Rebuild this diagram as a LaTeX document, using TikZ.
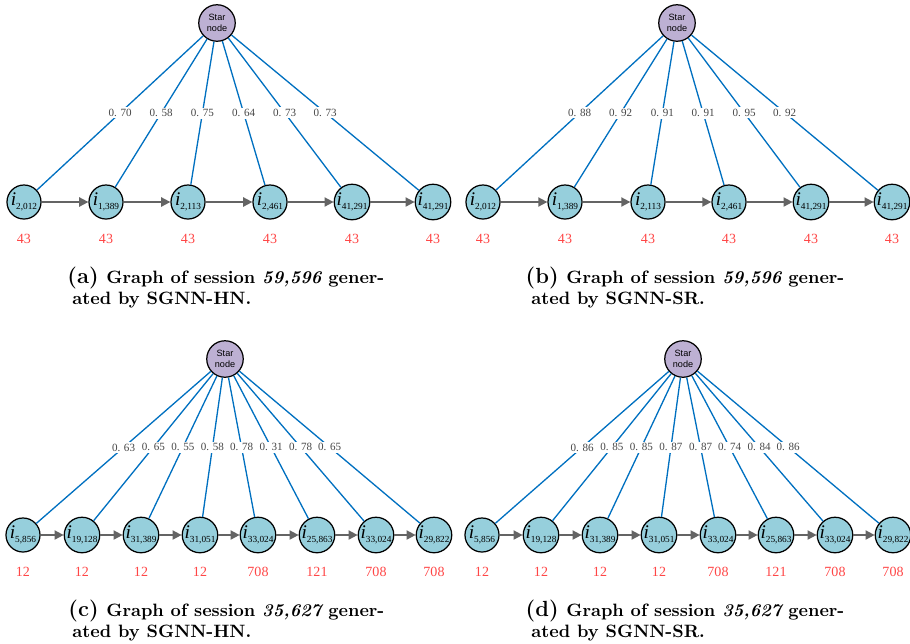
\documentclass[tikz,border=0pt]{standalone}
\usepackage{fontspec}
\usetikzlibrary{arrows.meta}
\newfontfamily\lserif{Liberation Serif}
\newfontfamily\lsans{Liberation Sans}
\definecolor{itemfill}{RGB}{150,207,220}
\definecolor{starfill}{RGB}{189,176,211}
\definecolor{edgeblue}{RGB}{0,112,192}
\definecolor{arrowgray}{RGB}{100,100,100}
\definecolor{freqred}{RGB}{255,70,70}
\definecolor{wgray}{RGB}{70,70,70}
\tikzset{
  itemnode/.style={circle,draw=black,line width=0.7pt,fill=itemfill,minimum size=19.4pt,inner sep=0pt},
  starnode/.style={circle,draw=black,line width=0.7pt,fill=starfill,minimum size=20.8pt,inner sep=0pt,align=center,font=\lsans\fontsize{5.2}{6}\selectfont},
  linkedge/.style={draw=edgeblue,line width=0.75pt},
  seqedge/.style={draw=arrowgray,line width=1pt,-{Triangle[length=5.2pt,width=5.2pt]}},
  weightlbl/.style={fill=white,inner sep=1pt,text=wgray,font=\lserif\fontsize{6.3}{7}\selectfont},
  freqlbl/.style={text=freqred,inner sep=0pt,font=\lserif\fontsize{8}{9}\selectfont},
  sublbl/.style={inner sep=0pt,anchor=base east,font=\bfseries\fontsize{12.5}{15}\selectfont},
  captxt/.style={inner sep=0pt,anchor=base west,font=\bfseries\fontsize{10.2}{12}\selectfont},
}
\newcommand{\itm}[1]{{\lserif\itshape\fontsize{11}{11}\selectfont i}{\lserif\fontsize{5.3}{5.3}\selectfont\raisebox{-2pt}{#1}}}
\begin{document}
\begin{tikzpicture}[x=0.57pt,y=-0.57pt]
\useasboundingbox (0,0) rectangle (910,643);
% ---------- panel (a)
\node[starnode] (sa) at (217,23) {Star\\node};
\foreach \x/\lab/\w/\f [count=\k] in {24/{2,012}/{0. 70}/43, 106/{1,389}/{0. 58}/43, 188/{2,113}/{0. 75}/43, 270/{2,461}/{0. 64}/43, 352/{41,291}/{0. 73}/43, 433/{41,291}/{0. 73}/43}{
  \node[itemnode] (a\k) at (\x,202) {\itm{\lab}};
  \node[freqlbl] (fa\k) at (\x,239) {\f};
  \draw[linkedge] (sa) -- (a\k) node[weightlbl,midway] (wa\k) {\w};
}
\foreach \k [count=\n from 2] in {1,...,5} \draw[seqedge] (a\k) -- (a\n);
\node[sublbl] (la) at (99,283) {(a)};
\node[captxt] (ca1) at (106,283) {Graph of session {\itshape 59,596} gener-};
\node[captxt] (ca2) at (72,304) {ated by SGNN-HN.};
% ---------- panel (b)
\node[starnode] (sb) at (677,23) {Star\\node};
\foreach \x/\lab/\w/\f [count=\k] in {483/{2,012}/{0. 88}/43, 565/{1,389}/{0. 92}/43, 648/{2,113}/{0. 91}/43, 729/{2,461}/{0. 91}/43, 811/{41,291}/{0. 95}/43, 892/{41,291}/{0. 92}/43}{
  \node[itemnode] (b\k) at (\x,202) {\itm{\lab}};
  \node[freqlbl] (fb\k) at (\x,239) {\f};
  \draw[linkedge] (sb) -- (b\k) node[weightlbl,midway] (wb\k) {\w};
}
\foreach \k [count=\n from 2] in {1,...,5} \draw[seqedge] (b\k) -- (b\n);
\node[sublbl] (lb) at (559,283) {(b)};
\node[captxt] (cb1) at (566,283) {Graph of session {\itshape 59,596} gener-};
\node[captxt] (cb2) at (531,304) {ated by SGNN-SR.};
% ---------- panel (c)
\node[starnode] (sc) at (225,359) {Star\\node};
\foreach \x/\lab/\w/\f [count=\k] in {23/{5,856}/{0. 63}/12, 82/{19,128}/{0. 65}/12, 141/{31,389}/{0. 55}/12, 200/{31,051}/{0. 58}/12, 258/{33,024}/{0. 78}/708, 317/{25,863}/{0. 31}/121, 376/{33,024}/{0. 78}/708, 434/{29,822}/{0. 65}/708}{
  \node[itemnode] (c\k) at (\x,535) {\itm{\lab}};
  \node[freqlbl] (fc\k) at (\x,572) {\f};
  \draw[linkedge] (sc) -- (c\k) node[weightlbl,midway] (wc\k) {\w};
}
\foreach \k [count=\n from 2] in {1,...,7} \draw[seqedge] (c\k) -- (c\n);
\node[sublbl] (lc) at (99,616) {(c)};
\node[captxt] (cc1) at (106,616) {Graph of session {\itshape 35,627} gener-};
\node[captxt] (cc2) at (72,637) {ated by SGNN-HN.};
% ---------- panel (d)
\node[starnode] (sd) at (683,359) {Star\\node};
\foreach \x/\lab/\w/\f [count=\k] in {482/{5,856}/{0. 86}/12, 541/{19,128}/{0. 85}/12, 600/{31,389}/{0. 85}/12, 659/{31,051}/{0. 87}/12, 718/{33,024}/{0. 87}/708, 776/{25,863}/{0. 74}/121, 835/{33,024}/{0. 84}/708, 893/{29,822}/{0. 86}/708}{
  \node[itemnode] (d\k) at (\x,535) {\itm{\lab}};
  \node[freqlbl] (fd\k) at (\x,572) {\f};
  \draw[linkedge] (sd) -- (d\k) node[weightlbl,midway] (wd\k) {\w};
}
\foreach \k [count=\n from 2] in {1,...,7} \draw[seqedge] (d\k) -- (d\n);
\node[sublbl] (ld) at (559,616) {(d)};
\node[captxt] (cd1) at (566,616) {Graph of session {\itshape 35,627} gener-};
\node[captxt] (cd2) at (531,637) {ated by SGNN-SR.};
\end{tikzpicture}
\end{document}
